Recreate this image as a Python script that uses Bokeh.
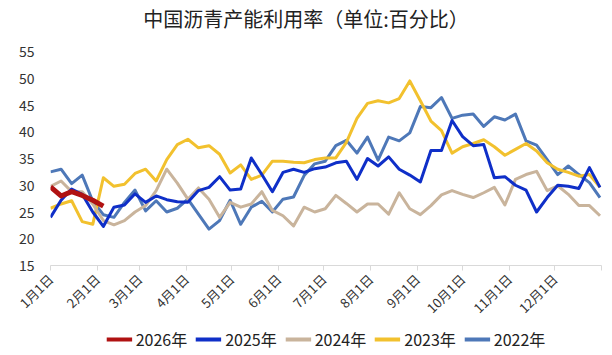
import math
from bokeh.plotting import figure
from bokeh.layouts import column
from bokeh.models import Range1d, FixedTicker, Legend, LegendItem, Div
from bokeh.embed import file_html
from bokeh.resources import INLINE

FONT = "Noto Sans CJK SC"

title_text = "中国沥青产能利用率（单位:百分比）"
month_ticks = [0, 31, 59, 90, 120, 151, 181, 212, 243, 273, 304, 334, 365]
month_labels = ["1月1日", "2月1日", "3月1日", "4月1日", "5月1日", "6月1日",
                "7月1日", "8月1日", "9月1日", "10月1日", "11月1日", "12月1日", ""]
y_ticks = [15, 20, 25, 30, 35, 40, 45, 50, 55]

# weekly values (day of year = 7 * week index)
v2026 = [29.7, 28.0, 28.8, 28.1, 27.2, 26.1]
v2025 = [24.0, 27.2, 29.3, 28.3, 25.0, 22.3, 25.9, 26.3, 28.4, 26.8, 28.0, 27.3,
         26.9, 26.8, 29.0, 29.6, 31.6, 29.1, 29.3, 35.1, 32.0, 28.8, 32.4, 33.0,
         32.4, 33.1, 33.4, 34.2, 34.5, 31.1, 35.0, 33.6, 35.3, 33.0, 31.9, 30.6,
         36.5, 36.5, 42.1, 39.1, 37.4, 37.6, 31.4, 31.6, 30.0, 29.1, 25.0, 27.7,
         30.0, 29.8, 29.4, 33.3, 29.6]
v2024 = [29.8, 30.8, 28.8, 28.8, 26.5, 23.4, 22.6, 23.4, 25.0, 26.2, 29.0, 33.0,
         30.4, 27.4, 29.5, 27.4, 24.0, 26.8, 25.9, 26.5, 28.8, 25.3, 24.3, 22.4,
         25.9, 25.0, 25.6, 28.1, 26.6, 25.0, 26.5, 26.5, 24.6, 28.6, 25.6, 24.5,
         26.2, 28.2, 29.0, 28.3, 27.7, 28.6, 29.6, 26.3, 31.1, 32.0, 32.6, 29.0,
         29.9, 28.3, 26.2, 26.2, 24.3]
v2023 = [25.7, 26.5, 27.1, 23.2, 22.7, 31.4, 29.8, 30.2, 32.2, 33.0, 30.8, 34.8,
         37.6, 38.6, 37.0, 37.4, 35.8, 32.3, 33.8, 31.1, 31.9, 34.5, 34.5, 34.3,
         34.2, 34.8, 35.1, 35.1, 38.0, 42.5, 45.3, 45.8, 45.4, 46.2, 49.5, 45.8,
         42.0, 40.2, 36.0, 37.2, 37.8, 38.5, 37.2, 35.6, 36.7, 37.8, 36.4, 34.2,
         33.0, 32.4, 31.7, 32.0, 29.6]
v2022 = [32.5, 33.0, 30.3, 31.9, 27.0, 24.5, 24.0, 26.8, 29.1, 25.2, 27.1, 25.0,
         25.7, 27.4, 24.6, 21.8, 23.4, 27.2, 22.7, 25.9, 27.0, 25.0, 27.4, 27.8,
         31.8, 34.0, 34.5, 37.4, 38.4, 36.0, 39.0, 34.7, 39.0, 38.3, 39.8, 44.7,
         44.5, 46.4, 42.5, 43.1, 43.3, 41.0, 42.8, 42.2, 43.3, 38.3, 37.5, 34.8,
         32.0, 33.6, 32.0, 30.5, 27.7]

series = [
    ("2022年", v2022, "#4e78b8", 3),
    ("2023年", v2023, "#f2c12e", 3),
    ("2024年", v2024, "#c9b49c", 3),
    ("2025年", v2025, "#0f2fc8", 3),
    ("2026年", v2026, "#b01212", 5),
]
order = ["2026年", "2025年", "2024年", "2023年", "2022年"]

title = Div(text=title_text, width=612, height=38, margin=(0, 0, 0, 0),
            styles={"font-family": FONT, "font-size": "20px", "color": "#222222",
                    "text-align": "center", "line-height": "38px", "width": "612px"})

p = figure(width=612, height=288, output_backend="svg", toolbar_location=None,
           x_range=Range1d(0, 365), y_range=Range1d(15, 55),
           min_border_left=46, min_border_right=11, min_border_top=13,
           min_border_bottom=59)
p.outline_line_color = None
p.xgrid.grid_line_color = None
p.ygrid.grid_line_color = None

for name, vals, color, lw in series:
    days = [7 * i for i in range(len(vals))]
    p.line(days, vals, line_color=color, line_width=lw, line_join="round")

p.yaxis.ticker = FixedTicker(ticks=y_ticks)
p.yaxis.axis_line_color = None
p.yaxis.major_tick_line_color = None
p.yaxis.minor_tick_line_color = None
p.yaxis.major_label_text_font = FONT
p.yaxis.major_label_text_font_size = "14px"
p.yaxis.major_label_text_color = "#333333"
p.yaxis.major_label_standoff = 10

p.xaxis.ticker = FixedTicker(ticks=month_ticks)
p.xaxis.major_label_overrides = {t: l for t, l in zip(month_ticks, month_labels)}
p.xaxis.axis_line_color = "#d9d9d9"
p.xaxis.major_tick_line_color = "#d9d9d9"
p.xaxis.major_tick_in = 0
p.xaxis.major_tick_out = 5
p.xaxis.minor_tick_line_color = None
p.xaxis.major_label_orientation = math.pi / 4
p.xaxis.major_label_standoff = 6
p.xaxis.major_label_text_font = FONT
p.xaxis.major_label_text_font_size = "13px"
p.xaxis.major_label_text_color = "#333333"

# legend strip below the chart (series drawn out of its view, only swatches show)
lg = figure(width=612, height=26, output_backend="svg", toolbar_location=None,
            x_range=Range1d(0, 365), y_range=Range1d(100, 101),
            x_axis_location=None, y_axis_location=None,
            min_border_left=50, min_border_right=0, min_border_top=0,
            min_border_bottom=0)
lg.outline_line_color = None
lg.grid.visible = False
data = {name: (vals, color) for name, vals, color, lw in series}
items = []
for name in order:
    vals, color = data[name]
    days = [7 * i for i in range(len(vals))]
    r = lg.line(days, vals, line_color=color, line_width=4)
    items.append(LegendItem(label=name, renderers=[r]))
legend = Legend(items=items, orientation="horizontal", location="center",
                label_text_font=FONT, label_text_font_size="16px",
                label_text_color="#222222", glyph_width=26, spacing=8,
                label_standoff=4, border_line_color=None, padding=0, margin=0,
                background_fill_alpha=0)
lg.add_layout(legend)

layout = column(title, p, lg, spacing=0)
open("out.html", "w").write(file_html(layout, INLINE))
